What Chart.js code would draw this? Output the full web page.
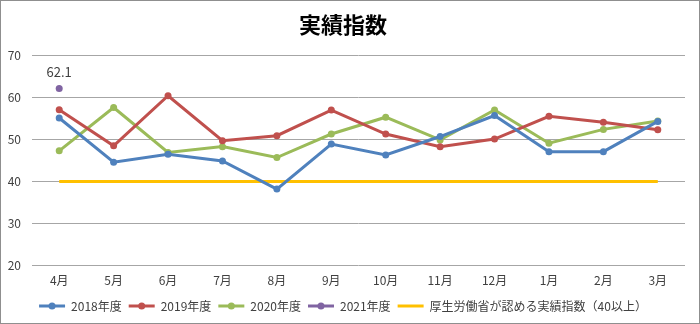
<!DOCTYPE html>
<html>
<head>
<meta charset="utf-8">
<script src="https://cdn.jsdelivr.net/npm/chart.js@4"></script>
<style>
  body { margin: 0; background: #fff; }
  #wrap { position: relative; width: 698px; height: 322px; border: 1px solid #8f8f8f; background: #fff; }
</style>
</head>
<body>
<div id="wrap"><canvas id="jisseki"></canvas></div>
<script>
const months = ['4月', '5月', '6月', '7月', '8月', '9月', '10月', '11月', '12月', '1月', '2月', '3月'];
const fy2018 = [55.1, 44.6, 46.5, 44.9, 38.2, 48.9, 46.3, 50.7, 55.7, 47.1, 47.1, 54.3];
const fy2019 = [57.1, 48.5, 60.4, 49.7, 50.9, 57.0, 51.3, 48.3, 50.1, 55.5, 54.1, 52.3];
const fy2020 = [47.3, 57.6, 46.9, 48.3, 45.7, 51.3, 55.3, 49.9, 57.0, 49.1, 52.4, 54.4];
const fy2021 = [62.1, null, null, null, null, null, null, null, null, null, null, null];
const threshold = [40, 40, 40, 40, 40, 40, 40, 40, 40, 40, 40, 40];
const yTicks = [20, 30, 40, 50, 60, 70];

const FONT = '"Noto Sans CJK JP", sans-serif';

function series(label, data, color) {
    return {
        label: label,
        data: data,
        borderColor: color,
        backgroundColor: color,
        borderWidth: 3,
        pointRadius: 3.5,
        pointHoverRadius: 3.5,
        pointBorderWidth: 0,
        tension: 0
    };
}

// value label over the 2021 point, and dots on the legend lines
const extras = {
    id: 'extras',
    afterDatasetsDraw(chart) {
        let ctx = chart.ctx;
        let meta = chart.getDatasetMeta(3);
        ctx.save();
        ctx.font = '13px ' + FONT;
        ctx.fillStyle = '#404040';
        ctx.textAlign = 'center';
        ctx.textBaseline = 'middle';
        fy2021.forEach(function(v, i) {
            if (v === null) return;
            let pt = meta.data[i];
            ctx.fillText(v.toFixed(1), pt.x, pt.y - 17);
        });
        ctx.restore();
    },
    afterDraw(chart) {
        let ctx = chart.ctx;
        let boxes = chart.legend.legendHitBoxes;
        let bw = chart.legend.options.labels.boxWidth;
        ctx.save();
        chart.data.datasets.forEach(function(ds, i) {
            if (ds.pointRadius === 0 || !boxes[i]) return;
            let b = boxes[i];
            ctx.fillStyle = ds.borderColor;
            ctx.beginPath();
            ctx.arc(b.left + bw / 2, b.top + b.height / 2, 3.5, 0, Math.PI * 2);
            ctx.fill();
        });
        ctx.restore();
    }
};

new Chart(document.getElementById('jisseki'), {
    type: 'line',
    data: {
        labels: months,
        datasets: [
            series('2018年度', fy2018, '#4F81BD'),
            series('2019年度', fy2019, '#C0504D'),
            series('2020年度', fy2020, '#9BBB59'),
            series('2021年度', fy2021, '#8064A2'),
            Object.assign(series('厚生労働省が認める実績指数（40以上）', threshold, '#FFC000'), { pointRadius: 0, pointHoverRadius: 0 })
        ]
    },
    options: {
        responsive: true,
        maintainAspectRatio: false,
        animation: false,
        layout: { padding: { left: 0, right: 14, top: 0, bottom: 1 } },
        plugins: {
            title: {
                display: true,
                text: '実績指数',
                color: '#000',
                font: { family: FONT, size: 22, weight: 'bold' },
                padding: { top: 10, bottom: 18 }
            },
            legend: {
                position: 'bottom',
                labels: {
                    color: '#404040',
                    font: { family: FONT, size: 12 },
                    boxWidth: 26,
                    boxHeight: 3,
                    padding: 7,
                    generateLabels(chart) {
                        return chart.data.datasets.map(function(ds, i) {
                            return {
                                text: ds.label,
                                fillStyle: ds.borderColor,
                                strokeStyle: ds.borderColor,
                                lineWidth: 0,
                                fontColor: '#404040',
                                datasetIndex: i
                            };
                        });
                    }
                }
            },
            tooltip: { enabled: false }
        },
        scales: {
            x: {
                offset: true,
                grid: { display: false },
                border: { display: false },
                afterFit(axis) {
                    axis.height += 5;
                },
                ticks: { color: '#404040', font: { family: FONT, size: 12 }, padding: 0 }
            },
            y: {
                min: 20,
                max: 70,
                afterBuildTicks(axis) {
                    axis.ticks = yTicks.map(function(v) { return { value: v }; });
                },
                afterFit(axis) {
                    axis.width = 31;
                },
                grid: { color: '#a6a6a6', lineWidth: 1, drawTicks: false },
                border: { display: false },
                ticks: { color: '#404040', font: { family: FONT, size: 12 }, padding: 11 }
            }
        }
    },
    plugins: [extras]
});
</script>
</body>
</html>
